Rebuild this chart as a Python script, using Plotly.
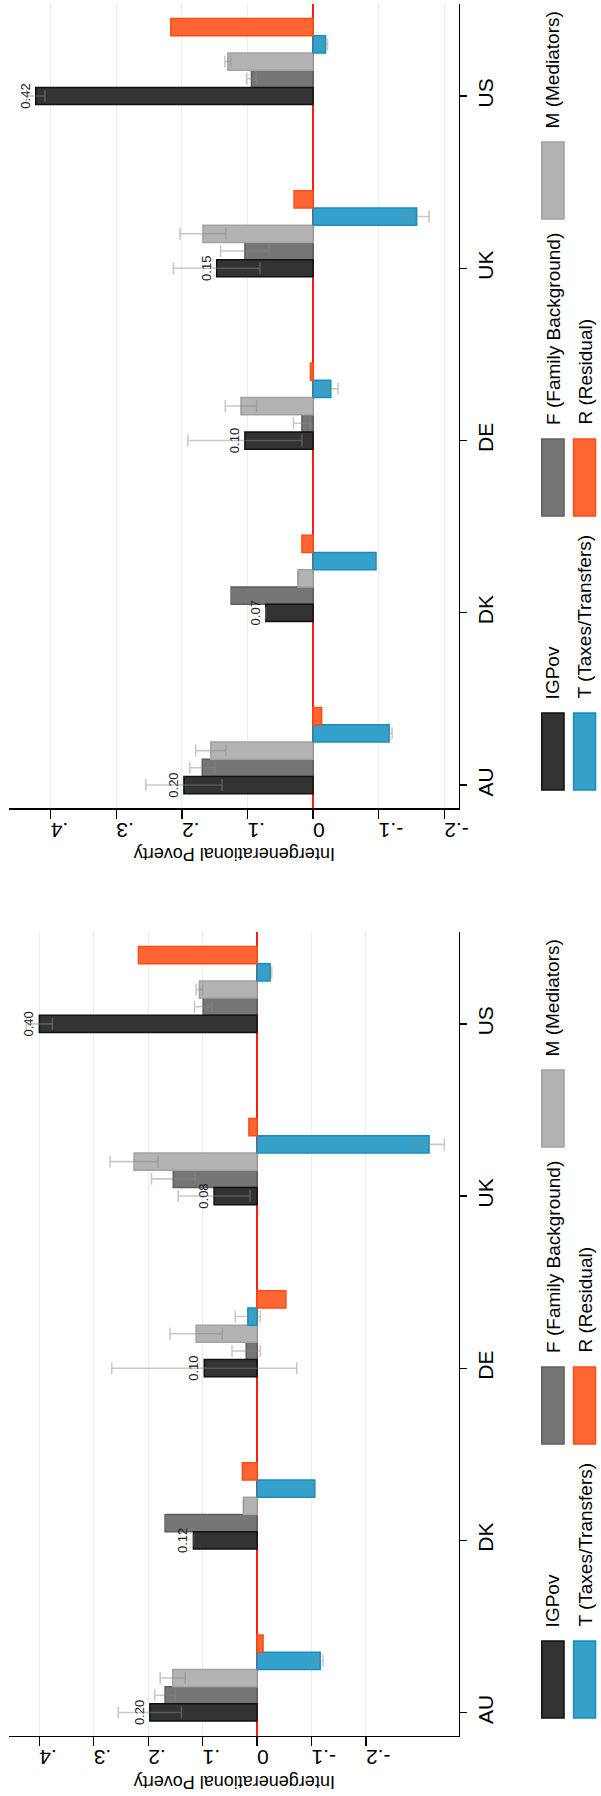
import plotly.graph_objects as go

# ---------------- data ----------------
countries = ["AU", "DK", "DE", "UK", "US"]
series_names = ["IGPov", "F (Family Background)", "M (Mediators)",
                "T (Taxes/Transfers)", "R (Residual)"]

# top panel
top_igpov = [0.197, 0.072, 0.104, 0.147, 0.423]
top_f = [0.169, 0.125, 0.017, 0.104, 0.094]
top_m = [0.156, 0.023, 0.110, 0.168, 0.130]
top_t = [-0.116, -0.096, -0.027, -0.158, -0.019]
top_r = [-0.013, 0.017, 0.004, 0.029, 0.217]
top_igpov_err = [0.058, None, 0.087, 0.066, 0.014]
top_f_err = [0.019, None, 0.013, 0.037, 0.0075]
top_m_err = [0.023, None, 0.024, 0.035, 0.0045]
top_t_err = [0.0045, None, 0.011, 0.019, 0.003]

# bottom panel
bot_igpov = [0.197, 0.117, 0.097, 0.079, 0.400]
bot_f = [0.169, 0.169, 0.020, 0.154, 0.099]
bot_m = [0.155, 0.025, 0.112, 0.226, 0.106]
bot_t = [-0.116, -0.106, 0.017, -0.316, -0.024]
bot_r = [-0.011, 0.027, -0.053, 0.015, 0.218]
bot_igpov_err = [0.058, None, 0.170, 0.066, 0.024]
bot_f_err = [0.019, None, 0.026, 0.040, 0.016]
bot_m_err = [0.023, None, 0.048, 0.044, 0.006]
bot_t_err = [0.005, None, 0.023, 0.028, 0.003]

tick_vals = [-0.2, -0.1, 0, 0.1, 0.2, 0.3, 0.4]
tick_text = ["-.2", "-.1", "0", ".1", ".2", ".3", ".4"]
axis_title = "Intergenerational Poverty"

# ---------------- styling ----------------
W, H = 601, 1796
FONT = "Liberation Sans, Arial, Helvetica, sans-serif"
fills = ["#333333", "#767676", "#b3b3b3", "#33a1c9", "#ff6633"]
lines = ["#111111", "#5e5e5e", "#a2a2a2", "#1a8dbd", "#ff4d12"]
offsets = [-0.05, 0.05, 0.15, 0.25, 0.35]
err_color = "rgba(135,135,135,0.45)"

fig = go.Figure()

panels = [
    dict(xa="x", ya="y",
         vals=[top_igpov, top_f, top_m, top_t, top_r],
         errs=[top_igpov_err, top_f_err, top_m_err, top_t_err, None]),
    dict(xa="x2", ya="y2",
         vals=[bot_igpov, bot_f, bot_m, bot_t, bot_r],
         errs=[bot_igpov_err, bot_f_err, bot_m_err, bot_t_err, None]),
]

draw_order = [1, 2, 3, 4, 0]  # IGPov last so its value labels sit on top
for p in panels:
    for i in draw_order:
        vals, err = p["vals"][i], p["errs"][i]
        kw = {}
        if err is not None:
            kw["error_x"] = dict(type="data", array=err, symmetric=True,
                                 color=err_color, thickness=1.6, width=6)
        if i == 0:
            kw["texttemplate"] = "%{x:.2f}"
            kw["textposition"] = "outside"
            kw["textangle"] = -90
            kw["textfont"] = dict(family=FONT, size=13, color="#222222")
            kw["cliponaxis"] = False
        fig.add_trace(go.Bar(
            x=vals, y=countries, orientation="h",
            width=0.1, offset=offsets[i],
            marker=dict(color=fills[i], line=dict(color=lines[i], width=1.5)),
            name=series_names[i], showlegend=False,
            xaxis=p["xa"], yaxis=p["ya"], **kw))

def px_x(v):
    return v / W

def px_y(v):
    return 1 - v / H

x_dom = [px_x(9), px_x(466)]
top_plot = (4, 808.3)
bot_plot = (932, 1735.7)

xcommon = dict(tickvals=tick_vals, ticktext=tick_text, tickangle=180,
               tickfont=dict(family=FONT, size=21, color="black"),
               showgrid=True, gridcolor="#e6eef1", gridwidth=1,
               zeroline=True, zerolinecolor="#ff1a1a", zerolinewidth=1.8,
               showline=True, linecolor="black", linewidth=1.3,
               ticks="outside", ticklen=9, tickcolor="black", tickwidth=1.3,
               domain=x_dom, fixedrange=True)
ycommon = dict(type="category", side="right", range=[-0.135, 4.534],
               tickangle=-90, tickfont=dict(family=FONT, size=21, color="black"),
               showgrid=False, showline=True, linecolor="black", linewidth=1.3,
               ticks="outside", ticklen=7, tickcolor="black", tickwidth=1.3,
               fixedrange=True)

fig.update_layout(
    width=W, height=H,
    margin=dict(l=0, r=0, t=0, b=0, pad=0),
    paper_bgcolor="white", plot_bgcolor="white",
    barmode="overlay", bargap=0,
    font=dict(family=FONT, color="black"),
    xaxis=dict(anchor="y", range=[0.464, -0.2226], **xcommon),
    yaxis=dict(anchor="x", domain=[px_y(top_plot[1]), px_y(top_plot[0])], **ycommon),
    xaxis2=dict(anchor="y2", range=[0.456, -0.371], **xcommon),
    yaxis2=dict(anchor="x2", domain=[px_y(bot_plot[1]), px_y(bot_plot[0])], **ycommon),
)

# axis titles (upside-down text)
for y_c in (854, 1782.5):
    fig.add_annotation(text=axis_title, x=px_x(237.5), y=px_y(y_c),
                       xref="paper", yref="paper", showarrow=False,
                       textangle=180, xanchor="center", yanchor="middle",
                       font=dict(family=FONT, size=18, color="black"))

# legends (rotated, drawn as boxes + text)
legend_slots = [(0, 0), (0, 1), (0, 2), (1, 0), (1, 1)]  # (column, row) per series
col_x = [(550, 572.6), (582.3, 604.6)]
row_box_bottom = [1718, 1444, 1147]
box_len = 77
for shift in (928, 0):
    for i, (c, r) in enumerate(legend_slots):
        x0, x1 = col_x[c]
        yb = row_box_bottom[r] - shift
        yt = yb - box_len
        fig.add_shape(type="rect", xref="paper", yref="paper",
                      x0=px_x(x0), x1=px_x(x1), y0=px_y(yb), y1=px_y(yt),
                      fillcolor=fills[i], line=dict(color=lines[i], width=1.5))
        fig.add_annotation(text=series_names[i], xref="paper", yref="paper",
                           x=px_x((x0 + x1) / 2), y=px_y(yt - 12),
                           showarrow=False, textangle=-90,
                           xanchor="center", yanchor="bottom",
                           font=dict(family=FONT, size=19, color="black"))

fig.write_html("out.html",
               config={"displayModeBar": False, "staticPlot": True},
               post_script="document.body.style.margin='0';"
                           "document.body.style.overflow='hidden';")
